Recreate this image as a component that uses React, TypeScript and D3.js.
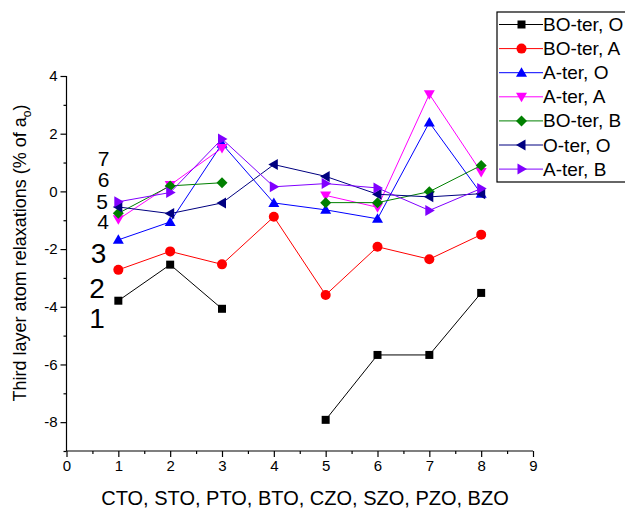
import React, { useEffect, useRef } from 'react';
import * as d3 from 'd3';

// x positions: 1..8 = CTO, STO, PTO, BTO, CZO, SZO, PZO, BZO
const categories = [1, 2, 3, 4, 5, 6, 7, 8];

const boterO = [-3.79, -2.54, -4.07, null, -7.92, -5.67, -5.67, -3.52];
const boterA = [-2.72, -2.08, -2.53, -0.88, -3.59, -1.92, -2.35, -1.5];
const aterO = [-1.68, -1.06, 1.65, -0.4, -0.64, -0.95, 2.39, -0.08];
const aterA = [-0.97, 0.22, 1.5, null, -0.14, -0.55, 3.37, 0.67];
const boterB = [-0.76, 0.19, 0.3, null, -0.39, -0.39, -0.01, 0.9];
const oterO = [-0.54, -0.77, -0.4, 0.93, 0.52, -0.1, -0.19, -0.08];
const aterB = [-0.36, -0.04, 1.82, 0.16, 0.27, 0.12, -0.66, 0.1];

const seriesNames = ['BO-ter, O', 'BO-ter, A', 'A-ter, O', 'A-ter, A', 'BO-ter, B', 'O-ter, O', 'A-ter, B'];
const seriesValues = [boterO, boterA, aterO, aterA, boterB, oterO, aterB];
const seriesColors = ['#000000', '#ff0000', '#0000ff', '#ff00ff', '#008000', '#000080', '#8000ff'];
const seriesSymbols = ['square', 'circle', 'up', 'down', 'diamond', 'left', 'right'];

const xTickLabels = [0, 1, 2, 3, 4, 5, 6, 7, 8, 9];
const yTickLabels = [-8, -6, -4, -2, 0, 2, 4];

// side annotations 1..7
const sideLabels = ['1', '2', '3', '4', '5', '6', '7'];

function markerPath(kind: string, s: number) {
  const h = s / 2;
  switch (kind) {
    case 'square':
      return `M${-h},${-h}H${h}V${h}H${-h}Z`;
    case 'diamond':
      return `M0,${-h - 1.5}L${h + 1.5},0L0,${h + 1.5}L${-h - 1.5},0Z`;
    case 'up':
      return `M0,${-h - 1.5}L${h + 1.5},${h}L${-h - 1.5},${h}Z`;
    case 'down':
      return `M0,${h + 1.5}L${h + 1.5},${-h}L${-h - 1.5},${-h}Z`;
    case 'left':
      return `M${-h - 1.5},0L${h},${-h - 1.5}L${h},${h + 1.5}Z`;
    case 'right':
      return `M${h + 1.5},0L${-h},${-h - 1.5}L${-h},${h + 1.5}Z`;
    default:
      return d3.symbol(d3.symbolCircle, Math.PI * 25)() as string;
  }
}

export default function App() {
  const ref = useRef<SVGSVGElement>(null);

  useEffect(() => {
    const svg = d3.select(ref.current);
    svg.selectAll('*').remove();

    const x = d3.scaleLinear([0, 9], [66.5, 533]);
    const y = d3.scaleLinear([-9, 4], [451, 76]);
    const font = 'Arial, "Liberation Sans", sans-serif';
    const fmt = (d: any) => String(d);

    // axes
    const gx = svg.append('g').attr('transform', 'translate(0,451)');
    gx.call(d3.axisBottom(x).tickValues(xTickLabels).tickSize(6).tickPadding(3).tickFormat(fmt));
    gx.append('g').call(
      d3.axisBottom(x).tickValues(d3.range(0.5, 9, 1)).tickSize(3).tickFormat(() => '')
    ).select('.domain').remove();

    const gy = svg.append('g').attr('transform', 'translate(66.5,0)');
    gy.call(d3.axisLeft(y).tickValues(yTickLabels).tickSize(6).tickPadding(3).tickFormat(fmt));
    gy.append('g').call(
      d3.axisLeft(y).tickValues([-9, -7, -5, -3, -1, 1, 3]).tickSize(3).tickFormat(() => '')
    ).select('.domain').remove();

    svg.selectAll('.domain').attr('stroke-width', 1.2);
    gx.select('.domain').attr('d', 'M66.5,0H533');
    gy.select('.domain').attr('d', 'M0,76V451');
    svg.selectAll('.tick line').attr('stroke-width', 1.2);
    svg.selectAll('.tick text').attr('font-family', font).attr('font-size', 15).attr('fill', '#000');

    // axis titles
    svg.append('text')
      .attr('x', 305).attr('y', 505)
      .attr('text-anchor', 'middle')
      .attr('font-family', font).attr('font-size', 20)
      .text('CTO, STO, PTO, BTO, CZO, SZO, PZO, BZO');

    const yt = svg.append('text')
      .attr('transform', 'translate(26,253) rotate(-90)')
      .attr('text-anchor', 'middle')
      .attr('font-family', font).attr('font-size', 18);
    yt.append('tspan').text('Third layer atom relaxations (% of a');
    yt.append('tspan').attr('font-size', 12).attr('dy', 5).text('o');
    yt.append('tspan').attr('dy', -5).text(')');

    // side numbers
    const sidePos = [
      [97, 328, 28], [97, 298, 28], [98.5, 263, 28],
      [103, 229, 21], [102, 208.5, 21], [103.5, 187, 21], [103.5, 166, 21],
    ];
    sideLabels.forEach((t, i) => {
      svg.append('text')
        .attr('x', sidePos[i][0]).attr('y', sidePos[i][1])
        .attr('text-anchor', 'middle')
        .attr('font-family', font).attr('font-size', sidePos[i][2])
        .text(t);
    });

    // series
    const plot = svg.append('g');
    seriesValues.forEach((vals, si) => {
      const pts = categories.map((c, i) => ({ c, v: vals[i] }));
      const line = d3.line<any>()
        .defined((d) => d.v != null)
        .x((d) => x(d.c))
        .y((d) => y(d.v));
      plot.append('path')
        .attr('d', line(pts))
        .attr('fill', 'none')
        .attr('stroke', seriesColors[si])
        .attr('stroke-width', 1);
      plot.selectAll(null)
        .data(pts.filter((d) => d.v != null))
        .join('path')
        .attr('transform', (d) => `translate(${x(d.c)},${y(d.v as number)})`)
        .attr('d', markerPath(seriesSymbols[si], 8))
        .attr('fill', seriesColors[si]);
    });

    // legend
    const lg = svg.append('g');
    lg.append('rect')
      .attr('x', 497).attr('y', 12).attr('width', 140).attr('height', 170)
      .attr('fill', 'white').attr('stroke', '#000').attr('stroke-width', 1.2);
    seriesNames.forEach((name, i) => {
      const ly = 24.5 + i * 24.1;
      lg.append('line')
        .attr('x1', 499).attr('x2', 543).attr('y1', ly).attr('y2', ly)
        .attr('stroke', seriesColors[i]).attr('stroke-width', 1);
      lg.append('path')
        .attr('transform', `translate(521.5,${ly})`)
        .attr('d', markerPath(seriesSymbols[i], 8))
        .attr('fill', seriesColors[i]);
      lg.append('text')
        .attr('x', 543).attr('y', ly + 6.5)
        .attr('font-family', font).attr('font-size', 19)
        .text(name);
    });
  }, []);

  return (
    <svg
      ref={ref}
      width={625}
      height={511}
      style={{ position: 'absolute', left: 0, top: 0, background: '#fff' }}
    />
  );
}
